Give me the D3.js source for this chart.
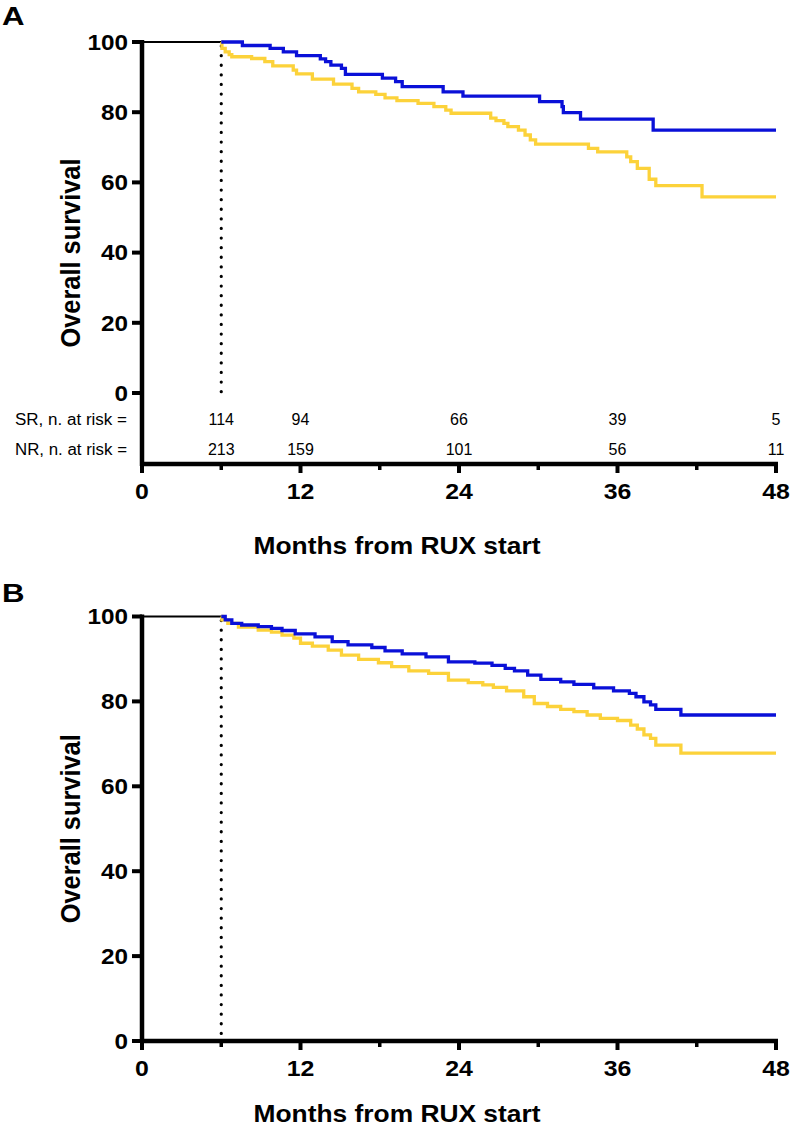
<!DOCTYPE html>
<html><head><meta charset="utf-8">
<script src="https://cdn.jsdelivr.net/npm/d3@7"></script>
<style>
html,body{margin:0;padding:0;background:#fff;}
svg{display:block;font-family:"Liberation Sans",Arial,Helvetica,sans-serif;}
</style></head>
<body>
<svg id="chart" width="792" height="1131"></svg>
<script>
// ---- data ----
const xTicks = [0, 12, 24, 36, 48];
const xMinorTicks = [6, 18, 30, 42];
const yTicks = [0, 20, 40, 60, 80, 100];
const landmark = 6;

const riskTimes = [6, 12, 24, 36, 48];
const riskSR = [114, 94, 66, 39, 5];
const riskNR = [213, 159, 101, 56, 11];
const riskLabels = ["SR, n. at risk =", "NR, n. at risk ="];

const panelA_SR = [[6,100],[7.6,99.0],[9.7,98.2],[10.7,97.2],[11.7,96.1],[13.5,95.2],[13.9,94.4],[14.3,93.4],[15.1,92.5],[15.4,90.8],[18.2,89.7],[19.2,88.7],[19.7,87.3],[22.8,85.8],[24.3,84.6],[30.1,83.0],[31.8,81.6],[31.9,79.9],[33.2,78.0],[38.7,74.9],[48,74.9]];
const panelA_NR = [[6,100],[6.05,98.2],[6.3,97.2],[6.6,96.4],[6.8,95.8],[8.3,95.3],[9.3,94.4],[9.9,93.2],[11.45,92.0],[11.7,90.9],[12.9,89.4],[14.5,88.0],[15.9,86.8],[16.4,85.8],[17.7,85.1],[18.4,84.1],[19.3,83.3],[20.9,82.5],[22.1,81.6],[23.0,80.6],[23.4,79.7],[26.4,78.3],[26.8,77.6],[27.4,76.8],[27.7,75.9],[28.5,74.9],[29.0,73.5],[29.4,72.1],[29.8,70.9],[33.8,69.7],[34.5,68.7],[36.7,67.3],[37.0,65.9],[37.5,64.0],[38.4,60.9],[38.9,59.1],[42.4,55.9],[48,55.9]];
const panelB_SR = [[6,100],[6.3,99.2],[6.8,98.4],[7.55,98.0],[8.8,97.6],[9.8,97.2],[10.6,96.7],[11.6,95.9],[13.1,95.2],[14.4,94.1],[15.6,93.3],[17.4,92.7],[18.4,91.9],[19.7,91.2],[21.5,90.5],[23.2,89.3],[25.2,89.0],[26.5,88.5],[27.5,87.8],[28.2,87.2],[29.2,86.2],[30.2,85.2],[31.7,84.6],[32.7,84.0],[34.2,83.2],[35.7,82.5],[36.9,81.9],[37.4,81.1],[38.0,79.9],[38.5,79.2],[38.9,78.1],[40.8,76.8],[48,76.8]];
const panelB_NR = [[6,100],[6.05,99.2],[6.5,98.4],[7.3,97.5],[8.8,96.8],[9.8,96.3],[10.6,95.6],[11.5,94.9],[12.0,93.7],[12.9,93.0],[14.1,92.1],[15.1,90.9],[16.4,89.9],[17.9,89.1],[18.9,88.2],[20.2,87.2],[21.7,86.6],[23.2,85.0],[24.7,84.4],[25.8,83.9],[26.6,83.3],[27.6,82.5],[28.9,81.1],[29.7,79.5],[30.7,78.8],[31.7,78.1],[32.7,77.6],[33.7,76.8],[34.7,76.0],[36.0,75.5],[37.0,74.4],[37.5,73.5],[38.0,72.1],[38.5,71.3],[38.9,69.7],[40.8,67.8],[48,67.8]];

const colorSR = "#0a10d8";
const colorNR = "#fcd23a";

// ---- drawing ----
const svg = d3.select("#chart");
const SX = 1.13; // horizontal stretch of text in the reference

function txt(g, x, y, s, opts) {
  const t = g.append("text")
    .attr("transform", `translate(${x},${y}) scale(${opts.sx||SX},1)` + (opts.rot ? " rotate(-90)" : ""))
    .attr("text-anchor", opts.anchor || "middle")
    .attr("font-size", opts.size)
    .attr("font-weight", opts.weight || "bold")
    .attr("fill", "#000")
    .text(s);
  if (opts.len) t.attr("textLength", opts.len).attr("lengthAdjust", "spacingAndGlyphs");
  return t;
}

function panel(cfg) {
  const g = svg.append("g");
  const x = d3.scaleLinear().domain([0, 48]).range([142, 776]);
  const y = d3.scaleLinear().domain([0, 100]).range([cfg.y0, cfg.y100]);
  const axisY = cfg.axisY;

  // panel letter
  txt(g, 2, cfg.letterY, cfg.letter, {size: 26, anchor: "start", sx: 1.2});

  // y axis
  g.append("line").attr("x1", 142).attr("x2", 142).attr("y1", y(100) - 2).attr("y2", axisY + 2)
    .attr("stroke", "#000").attr("stroke-width", 4.5);
  yTicks.forEach(v => {
    g.append("line").attr("x1", 132).attr("x2", 142).attr("y1", y(v)).attr("y2", y(v))
      .attr("stroke", "#000").attr("stroke-width", 4);
    txt(g, 128, y(v) + 7.8, String(v), {size: 21.5, anchor: "end"});
  });
  // x axis
  g.append("line").attr("x1", 140).attr("x2", 778).attr("y1", axisY).attr("y2", axisY)
    .attr("stroke", "#000").attr("stroke-width", 4.5);
  xTicks.forEach(v => {
    g.append("line").attr("x1", x(v)).attr("x2", x(v)).attr("y1", axisY).attr("y2", axisY + 9)
      .attr("stroke", "#000").attr("stroke-width", 4);
    txt(g, x(v), axisY + 35, String(v), {size: 22, anchor: "middle"});
  });
  xMinorTicks.forEach(v => {
    g.append("line").attr("x1", x(v)).attr("x2", x(v)).attr("y1", axisY).attr("y2", axisY + 6)
      .attr("stroke", "#000").attr("stroke-width", 3.5);
  });

  // axis titles
  txt(g, 397, axisY + cfg.titleDy, "Months from RUX start", {size: 24, anchor: "middle", sx: 1, len: 287});
  txt(g, 80, (y(100) + axisY) / 2, "Overall survival", {size: 24, anchor: "middle", rot: true, sx: 1.15, len: 189});

  // landmark dotted line
  g.append("line").attr("x1", x(landmark)).attr("x2", x(landmark)).attr("y1", y(100) + 4).attr("y2", y(0))
    .attr("stroke", "#000").attr("stroke-width", 3.2).attr("stroke-dasharray", "0.1,9.5")
    .attr("stroke-linecap", "round");
  // pre-landmark line
  g.append("line").attr("x1", x(0)).attr("x2", x(landmark)).attr("y1", y(100)).attr("y2", y(100))
    .attr("stroke", "#000").attr("stroke-width", 2);

  const line = d3.line().x(d => x(d[0])).y(d => y(d[1])).curve(d3.curveStepAfter);
  g.append("path").attr("d", line(cfg.nr)).attr("fill", "none").attr("stroke", colorNR).attr("stroke-width", 3.3);
  g.append("path").attr("d", line(cfg.sr)).attr("fill", "none").attr("stroke", colorSR).attr("stroke-width", 3.3);

  if (cfg.risk) {
    [riskSR, riskNR].forEach((arr, i) => {
      const by = i === 0 ? 425 : 455;
      txt(g, 15, by, riskLabels[i], {size: 16, anchor: "start", weight: "normal", sx: 1, len: 112});
      arr.forEach((n, j) => {
        txt(g, x(riskTimes[j]), by, String(n), {size: 16, anchor: "middle", weight: "normal", sx: 1});
      });
    });
  }
}

panel({letter: "A", letterY: 25, y0: 393, y100: 42, axisY: 464, titleDy: 90, sr: panelA_SR, nr: panelA_NR, risk: true});
panel({letter: "B", letterY: 602, y0: 1041, y100: 616.5, axisY: 1041, titleDy: 81, sr: panelB_SR, nr: panelB_NR, risk: false});
</script>
</body></html>
